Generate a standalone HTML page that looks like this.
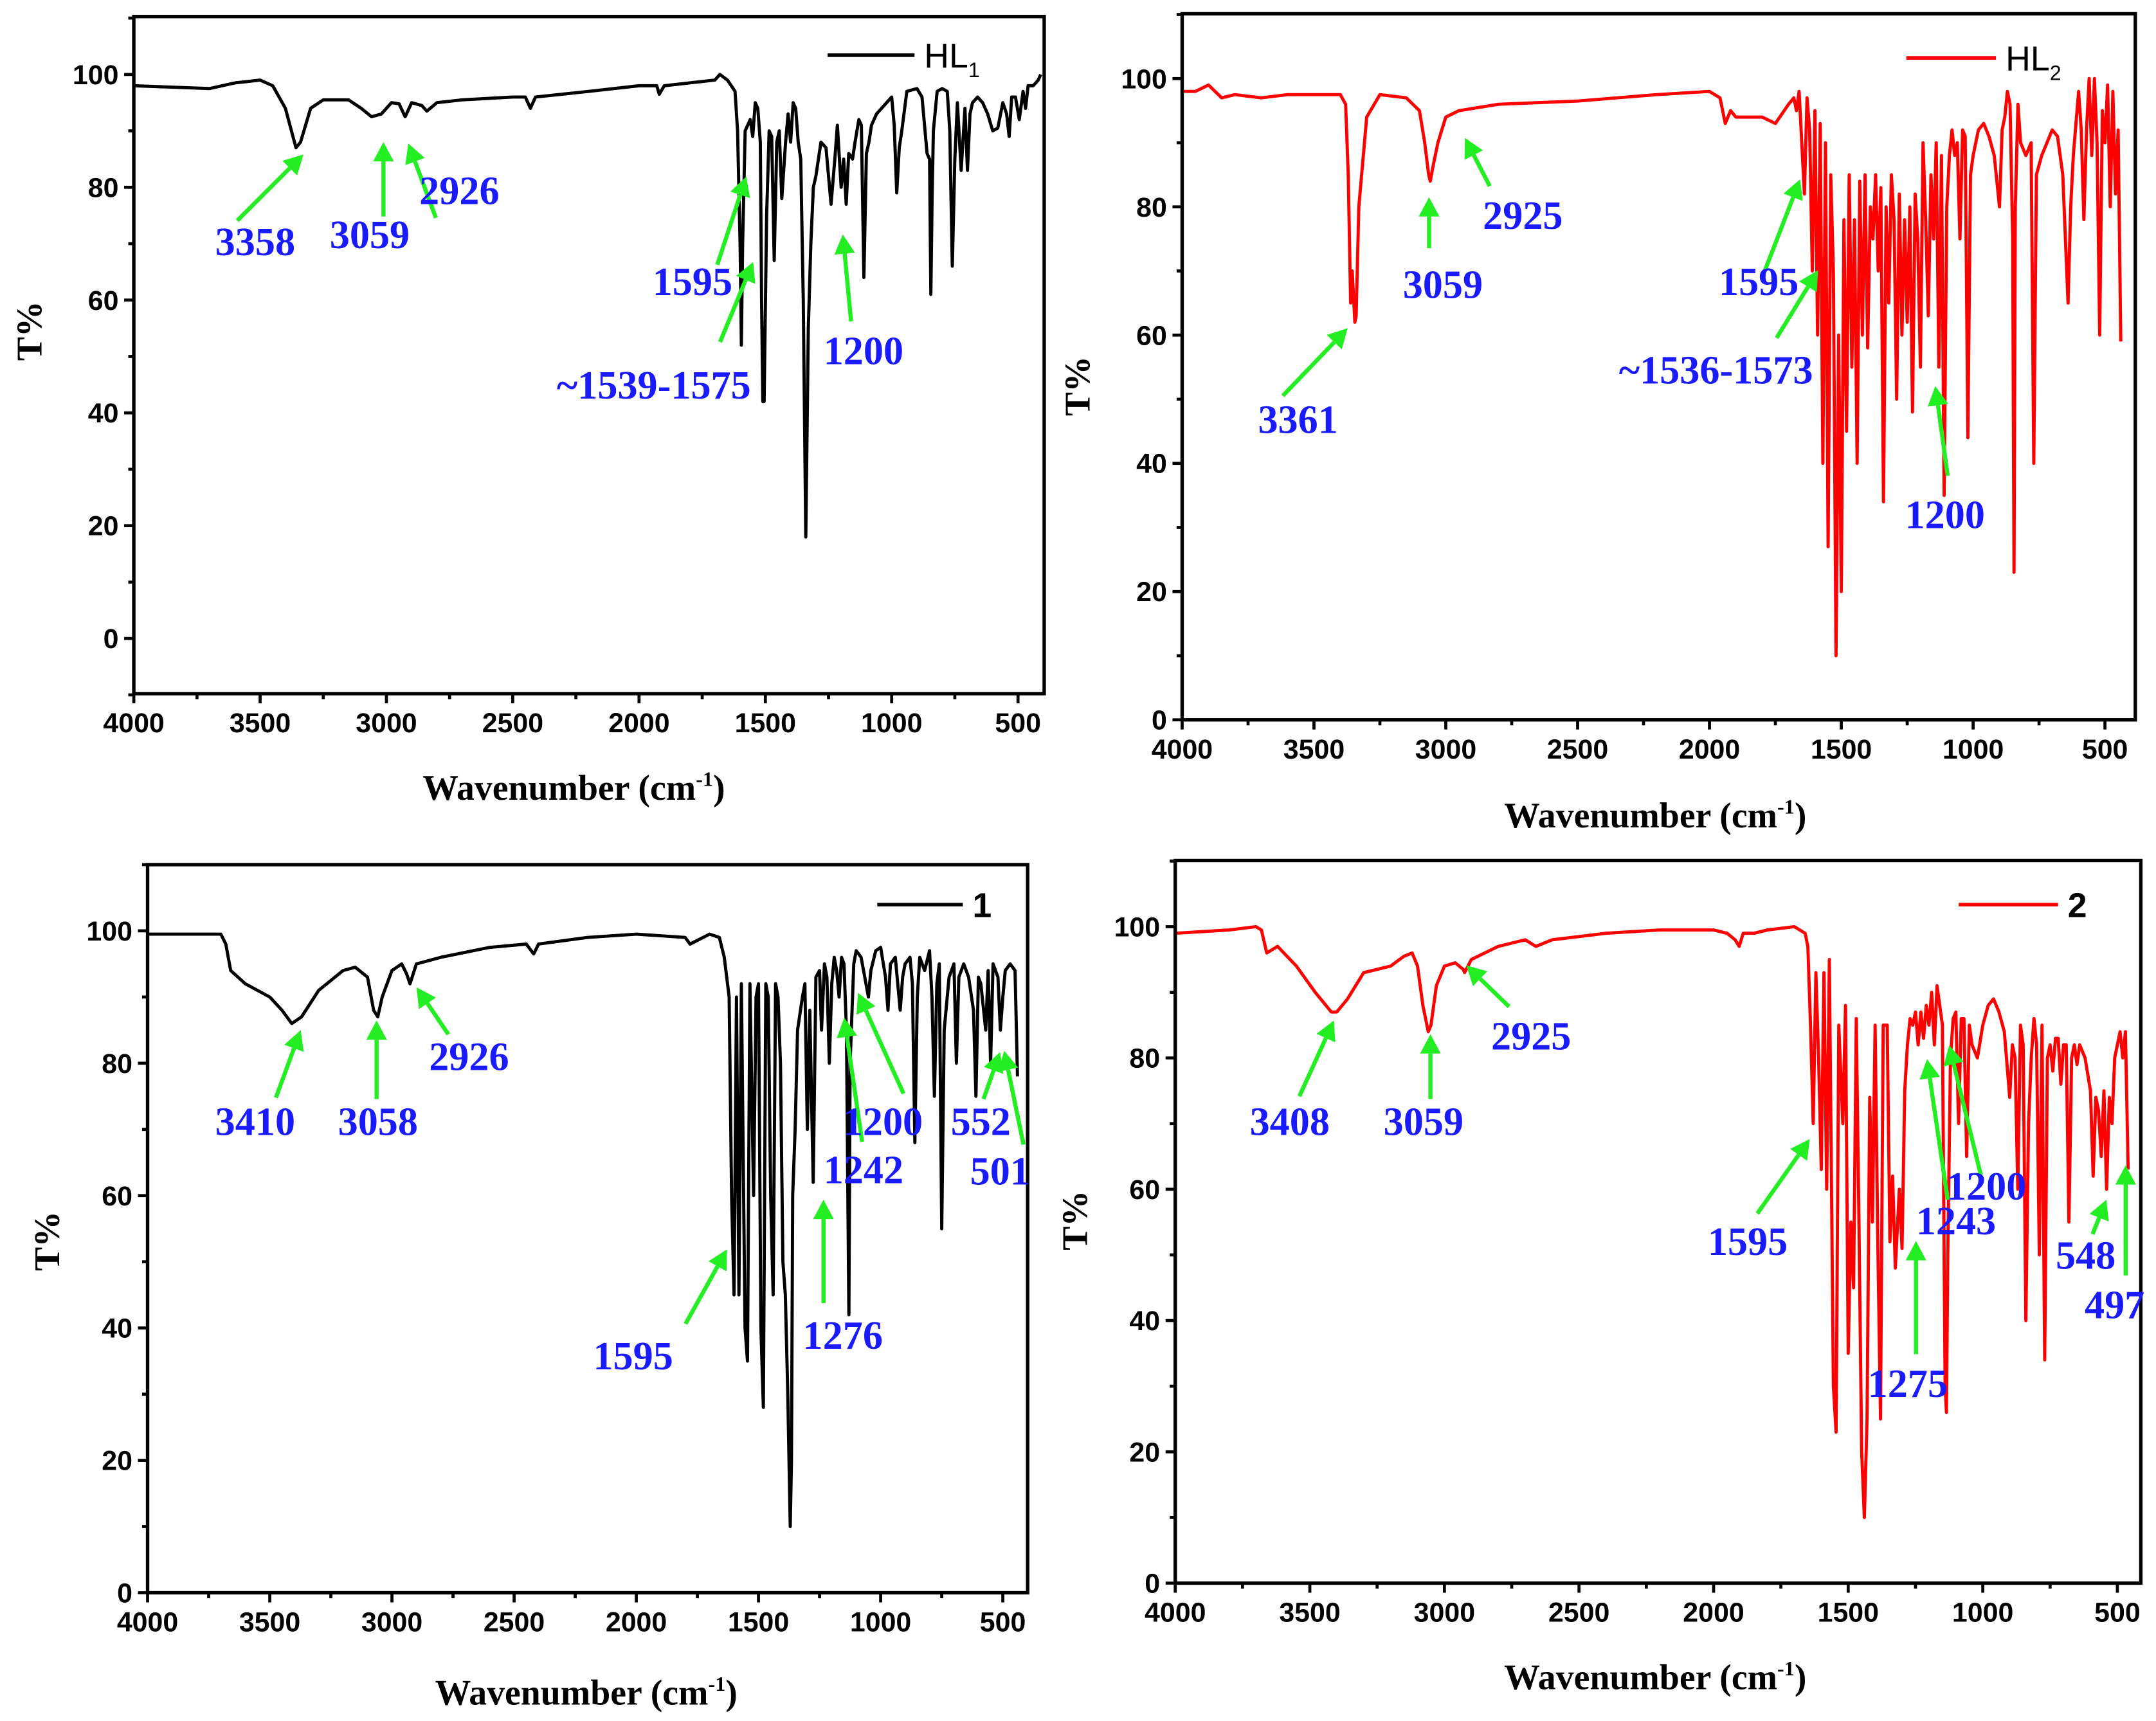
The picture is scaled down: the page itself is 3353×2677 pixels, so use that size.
<!DOCTYPE html>
<html><head><meta charset="utf-8">
<style>
html,body{margin:0;padding:0;background:#fff;}
svg{display:block;}
.tick{font-family:"Liberation Sans",sans-serif;font-weight:bold;font-size:20px;fill:#000;}
.ann{font-family:"Liberation Serif",serif;font-weight:bold;font-size:29px;fill:#1a1aff;}
.title{font-family:"Liberation Serif",serif;font-weight:bold;font-size:26px;fill:#000;}
.leg{font-family:"Liberation Sans",sans-serif;font-size:25px;fill:#000;}
</style></head>
<body>
<svg id="fig" width="3353" height="2677" viewBox="0 0 1563 1248" preserveAspectRatio="none" xmlns="http://www.w3.org/2000/svg"></svg>
<script>
const xTickLabels = [4000,3500,3000,2500,2000,1500,1000,500];
const yTickLabels = [0,20,40,60,80,100];

const hl1Spectrum = [[4000,98],[3700,97.5],[3600,98.5],[3500,99],[3450,98],[3400,94],[3370,89],[3358,87],[3340,88],[3300,94],[3250,95.5],[3150,95.5],[3100,94],[3059,92.5],[3020,93],[2980,95],[2950,94.8],[2926,92.5],[2900,95],[2860,94.5],[2840,93.5],[2800,95],[2700,95.5],[2500,96],[2450,96],[2430,94],[2410,96],[2200,97],[2000,98],[1930,98],[1920,96.5],[1900,98],[1800,98.5],[1700,99],[1680,100],[1650,99],[1620,97],[1610,90],[1600,70],[1595,52],[1590,70],[1580,90],[1570,91],[1560,92],[1550,89],[1540,95],[1530,94],[1520,88],[1515,60],[1510,42],[1505,42],[1495,75],[1485,90],[1475,89],[1465,67],[1455,88],[1445,90],[1435,78],[1420,88],[1410,93],[1400,88],[1390,95],[1380,94],[1370,88],[1360,85],[1350,60],[1340,18],[1330,55],[1320,70],[1310,80],[1300,82],[1280,88],[1260,87],[1240,77],[1225,85],[1215,91],[1200,80],[1190,85],[1180,77],[1170,86],[1155,85],[1145,88],[1130,92],[1120,91],[1110,64],[1100,86],[1090,88],[1080,91],[1060,93],[1040,94],[1020,95],[1000,96],[990,91],[980,79],[970,87],[960,90],[940,97],[900,97.5],[880,96],[860,86],[850,85],[845,61],[840,78],[835,90],[820,97],[800,97.5],[780,97],[770,90],[760,66],[750,85],[740,95],[725,83],[710,94],[700,83],[690,93],[680,95],[660,96],[640,95],[620,93],[600,90],[580,90.5],[560,95],[545,93],[535,89],[525,96],[510,96],[495,92],[480,97],[470,94],[460,98],[440,98],[420,99],[410,100]];

const hl2Spectrum = [[4000,0],[4000,98],[3950,98],[3900,99],[3850,97],[3800,97.5],[3700,97],[3600,97.5],[3400,97.5],[3380,96],[3370,85],[3361,65],[3355,70],[3345,62],[3340,63],[3330,80],[3300,94],[3250,97.5],[3150,97],[3100,95],[3080,90],[3065,85],[3059,84],[3050,86],[3030,90],[3000,94],[2950,95],[2800,96],[2500,96.5],[2200,97.5],[2000,98],[1960,97],[1940,93],[1920,95],[1900,94],[1800,94],[1750,93],[1700,96],[1680,97],[1670,95],[1660,98],[1650,90],[1640,82],[1630,97],[1620,92],[1610,70],[1600,95],[1590,60],[1580,93],[1570,40],[1560,90],[1550,27],[1540,85],[1530,70],[1520,10],[1510,60],[1500,20],[1490,78],[1480,45],[1470,85],[1460,55],[1450,78],[1440,40],[1430,84],[1420,60],[1410,85],[1400,58],[1390,80],[1380,75],[1370,85],[1360,70],[1350,83],[1340,34],[1330,80],[1320,65],[1310,85],[1300,78],[1290,50],[1280,82],[1270,60],[1260,78],[1250,62],[1240,80],[1230,48],[1220,82],[1210,75],[1200,55],[1190,90],[1180,78],[1170,63],[1160,85],[1150,75],[1140,90],[1130,55],[1120,88],[1110,35],[1100,80],[1090,88],[1080,92],[1070,88],[1060,90],[1050,75],[1040,92],[1030,91],[1020,44],[1010,85],[1000,88],[980,92],[960,93],[940,91],[920,88],[900,80],[890,92],[880,94],[870,98],[860,96],[850,75],[845,23],[840,80],[830,96],[820,90],[800,88],[780,90],[770,40],[760,85],[740,88],[720,90],[700,92],[680,91],[660,85],[640,65],[630,80],[620,88],[600,98],[590,92],[580,78],[570,92],[560,100],[550,88],[540,100],[530,90],[520,60],[510,95],[500,90],[490,99],[480,80],[470,98],[460,82],[450,92],[440,59]];

const c1Spectrum = [[4000,99.5],[3700,99.5],[3680,98],[3660,94],[3600,92],[3500,90],[3450,88],[3410,86],[3370,87],[3300,91],[3200,94],[3150,94.5],[3100,93],[3075,88],[3058,87],[3040,90],[3000,94],[2960,95],[2940,93.5],[2926,92],[2900,95],[2800,96],[2600,97.5],[2450,98],[2420,96.5],[2400,98],[2200,99],[2000,99.5],[1800,99],[1780,98],[1700,99.5],[1660,99],[1640,96],[1620,90],[1610,60],[1600,45],[1590,90],[1580,45],[1570,92],[1555,40],[1545,35],[1535,92],[1520,60],[1510,90],[1500,92],[1490,40],[1480,28],[1470,92],[1460,90],[1450,60],[1440,45],[1430,92],[1420,90],[1410,80],[1400,50],[1390,45],[1380,30],[1370,10],[1365,20],[1360,60],[1350,70],[1340,85],[1320,90],[1310,92],[1300,70],[1290,88],[1276,62],[1265,93],[1250,94],[1242,85],[1230,95],[1220,93],[1210,80],[1200,92],[1190,96],[1180,94],[1170,90],[1160,96],[1150,95],[1140,85],[1130,42],[1125,80],[1110,95],[1100,97],[1080,96],[1060,92],[1050,90],[1040,94],[1020,97],[1000,97.5],[980,93],[970,88],[960,95],[940,96],[920,88],[910,93],[900,95],[880,96],[870,92],[860,68],[850,90],[840,96],[820,94],[800,97],[790,90],[780,75],[770,92],[760,95],[750,55],[740,85],[720,93],[700,95],[690,80],[680,93],[660,95],[640,93],[620,88],[610,75],[600,93],[590,92],[570,85],[560,94],[550,80],[540,95],[520,93],[510,85],[500,90],[490,94],[470,95],[450,94],[440,78]];

const c2Spectrum = [[4000,0],[4000,99],[3800,99.5],[3700,100],[3680,99.5],[3660,96],[3620,97],[3550,94],[3480,90],[3420,87],[3400,87],[3360,89],[3300,93],[3250,93.5],[3200,94],[3150,95.5],[3120,96],[3100,94],[3080,88],[3060,84],[3050,85],[3030,91],[3000,94],[2960,94.5],[2930,93.5],[2925,93],[2900,95],[2800,97],[2700,98],[2660,97],[2600,98],[2500,98.5],[2400,99],[2200,99.5],[2000,99.5],[1950,99],[1920,98],[1905,97],[1890,99],[1850,99],[1800,99.5],[1700,100],[1660,99],[1650,97],[1640,85],[1630,70],[1620,93],[1610,80],[1600,63],[1590,93],[1580,60],[1570,95],[1555,30],[1545,23],[1535,85],[1520,70],[1510,88],[1500,35],[1490,55],[1480,45],[1470,86],[1460,55],[1450,20],[1440,10],[1430,25],[1420,74],[1410,55],[1400,85],[1390,52],[1380,25],[1370,85],[1355,85],[1345,52],[1335,62],[1325,48],[1310,60],[1300,51],[1290,75],[1280,82],[1270,86],[1260,85],[1250,87],[1240,82],[1230,87],[1220,83],[1210,88],[1200,85],[1190,90],[1180,82],[1170,91],[1150,85],[1140,30],[1135,26],[1130,50],[1120,80],[1110,86],[1100,87],[1090,70],[1080,86],[1070,86],[1060,65],[1050,85],[1040,82],[1020,80],[1000,85],[980,88],[960,89],[940,87],[920,84],[900,74],[890,82],[880,80],[870,60],[860,85],[850,82],[840,40],[830,70],[820,80],[810,86],[800,82],[790,50],[780,85],[770,34],[760,80],[750,82],[740,78],[730,83],[720,83],[710,76],[700,82],[690,82],[680,55],[670,80],[660,82],[650,79],[640,82],[620,80],[600,75],[590,62],[580,74],[570,72],[560,65],[550,75],[540,60],[530,74],[520,70],[510,80],[500,82],[490,84],[480,80],[470,84],[460,63]];

const NS="http://www.w3.org/2000/svg";
const fig=document.getElementById('fig');
function mk(tag,attrs,parent){const e=document.createElementNS(NS,tag);for(const k in attrs)e.setAttribute(k,attrs[k]);(parent||fig).appendChild(e);return e;}

const panels=[
 {id:'hl1',data:hl1Spectrum,color:'#000',fx0:97,fx1:757,fy0:12,fy1:503,x4000:97,x500:738,y100:54,y0:463,ymin:-10,
  leg:{x0:600,x1:663,y:40,main:'HL',sub:'1'},tx:[22,240],wx:[416,572],
  anns:[['3358',185,185,172,160,220,112],['3059',268,180,278,157,278,103],['2926',333,148,316,158,296,104],['1595',502,214,520,192,541,128],['~1539-1575',474,289,522,248,546,190],['1200',626,264,617,233,611,170]]},
 {id:'hl2',data:hl2Spectrum,color:'#ff0000',fx0:857,fx1:1548,fy0:10,fy1:522,x4000:857,x500:1526,y100:57,y0:522,ymin:0,
  leg:{x0:1382,x1:1447,y:42,main:'HL',sub:'2'},tx:[782,280],wx:[1200,592],
  anns:[['3361',941,314,930,287,977,238],['3059',1046,216,1036,180,1036,143],['2925',1104,166,1080,135,1062,100],['1595',1275,214,1278,200,1305,130],['~1536-1573',1244,278,1288,245,1318,196],['1200',1410,383,1412,345,1403,280]]},
 {id:'complex1',data:c1Spectrum,color:'#000',fx0:107,fx1:745,fy0:627,fy1:1155,x4000:107,x500:727,y100:675,y0:1155,ymin:0,
  leg:{x0:636,x1:698,y:656,main:'1',sub:''},tx:[35,900],wx:[425,1228],
  anns:[['3410',185,823,200,796,218,747],['3058',274,823,273,797,273,740],['2926',340,776,325,750,302,716],['1595',459,993,497,960,527,906],['1276',611,978,597,945,597,870],['1242',626,858,625,828,612,738],['1200',640,823,655,793,622,720],['552',711,823,713,797,725,763],['501',725,859,742,830,728,762]]},
 {id:'complex2',data:c2Spectrum,color:'#ff0000',fx0:852,fx1:1552,fy0:624,fy1:1148,x4000:852,x500:1535,y100:672,y0:1148,ymin:0,
  leg:{x0:1420,x1:1492,y:656,main:'2',sub:''},tx:[780,885],wx:[1200,1217],
  anns:[['3408',935,823,942,795,967,740],['3059',1032,823,1037,797,1037,750],['2925',1110,761,1094,730,1063,700],['1595',1267,910,1274,880,1312,826],['1275',1383,1013,1389,982,1389,900],['1243',1418,895,1412,870,1397,768],['1200',1440,870,1436,852,1413,758],['548',1512,920,1517,895,1527,870],['497',1533,956,1541,925,1541,845]]}
];

function arrow(g,x0,y0,x1,y1){
  const dx=x1-x0,dy=y1-y0,L=Math.hypot(dx,dy),ux=dx/L,uy=dy/L,h=14,w=7.5;
  const bx=x1-ux*h,by=y1-uy*h;
  const ln=mk('line',{x1:x0,y1:y0,x2:bx,y2:by,stroke:'#22ee22','stroke-width':3},g);
  
  
  const hd=mk('polygon',{points:`${x1},${y1} ${bx-uy*w},${by+ux*w} ${bx+uy*w},${by-ux*w}`,fill:'#22ee22'},g);
  
  
}

panels.forEach(p=>{
  const sx=(p.x500-p.x4000)/3500, sy=(p.y0-p.y100)/100;
  const X=w=>p.x4000+(4000-w)*sx, Y=t=>p.y0-t*sy;
  const g=mk('g',{});
  
  
  const d=p.data.map((pt,i)=>(i?'L':'M')+X(pt[0]).toFixed(2)+','+Y(pt[1]).toFixed(2)).join(' ');
  const path=mk('path',{d:d,fill:'none',stroke:p.color,'stroke-width':2.3,'stroke-linejoin':'round'},g);
  
  
  const fr=mk('rect',{x:p.fx0,y:p.fy0,width:p.fx1-p.fx0,height:p.fy1-p.fy0,fill:'none',stroke:'#000','stroke-width':2.5},g);
  
  
  for(let w=4000;w>=400;w-=250){
    const x=X(w); if(x>p.fx1+0.5)break;
    const major=(w%500===0);
    mk('line',{x1:x,y1:p.fy1,x2:x,y2:p.fy1+(major?7:4),stroke:'#000','stroke-width':2.2},g);
  }
  xTickLabels.forEach(v=>{
    const t=mk('text',{x:X(v),y:p.fy1+28,'text-anchor':'middle',class:'tick'},g);
    t.textContent=v;
    
    
  });
  for(let v=p.ymin;v<=110;v+=10){
    const y=Y(v); if(y<p.fy0-0.5)break;
    const major=(v%20===0);
    mk('line',{x1:p.fx0,y1:y,x2:p.fx0-(major?7:4),y2:y,stroke:'#000','stroke-width':2.2},g);
  }
  yTickLabels.forEach(v=>{
    const t=mk('text',{x:p.fx0-11,y:Y(v)+7,'text-anchor':'end',class:'tick'},g);
    t.textContent=v;
    
    
  });
  const yt=mk('text',{x:p.tx[0],y:p.tx[1],'text-anchor':'middle',class:'title',transform:`rotate(-90 ${p.tx[0]} ${p.tx[1]})`,dy:8},g);
  yt.textContent='T%';
  
  
  const xt=mk('text',{x:p.wx[0],y:p.wx[1]+8,'text-anchor':'middle',class:'title'},g);
  xt.innerHTML='Wavenumber (cm<tspan dy="-10" font-size="15">-1</tspan><tspan dy="10">)</tspan>';
  
  
  const lg=mk('g',{},g);
  
  
  mk('line',{x1:p.leg.x0,y1:p.leg.y,x2:p.leg.x1,y2:p.leg.y,stroke:p.color,'stroke-width':2.6},lg);
  const lt=mk('text',{x:p.leg.x1+7,y:p.leg.y+9,class:'leg','font-weight':p.leg.sub?'normal':'bold'},lg);
  lt.innerHTML=p.leg.main+(p.leg.sub?`<tspan dy="7" font-size="15">${p.leg.sub}</tspan>`:'');
  p.anns.forEach(a=>{
    const ag=mk('g',{},g);
    
    
    arrow(ag,a[3],a[4],a[5],a[6]);
    const t=mk('text',{x:a[1],y:a[2],'text-anchor':'middle',class:'ann'},ag);
    t.textContent=a[0];
  });
});
</script>
</body></html>
